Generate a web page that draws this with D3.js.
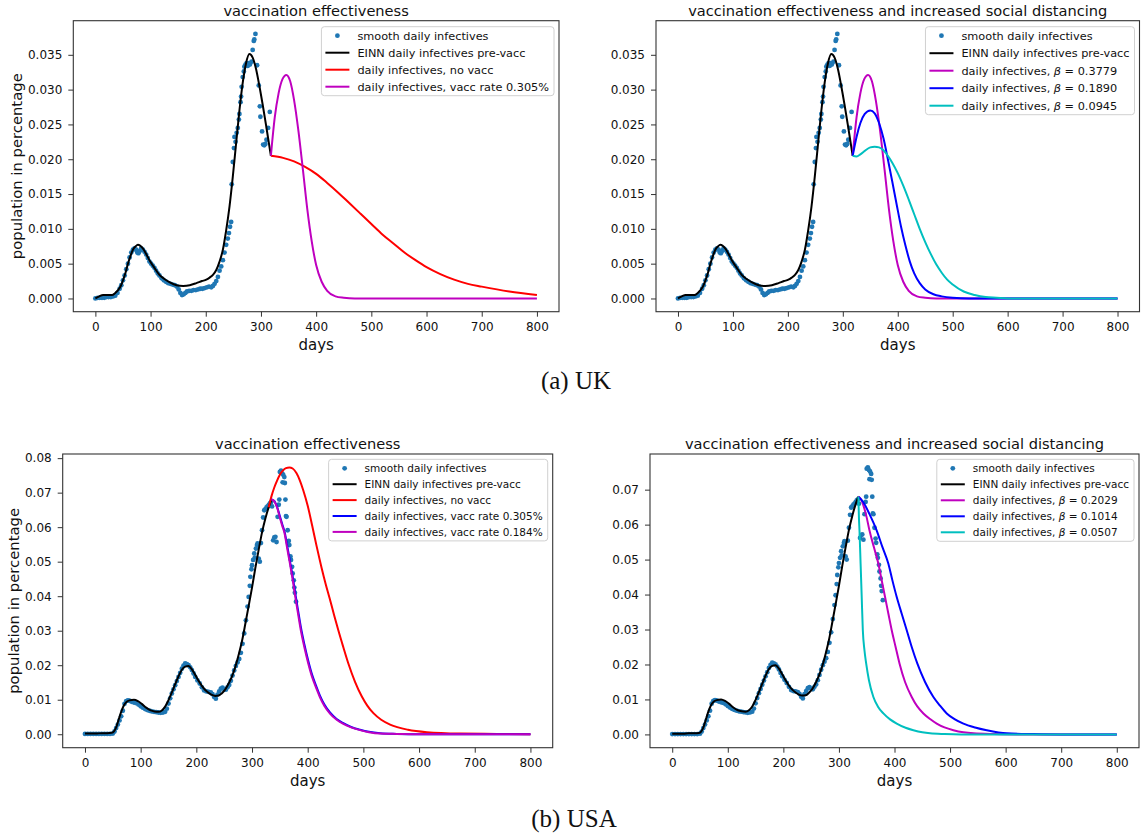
<!DOCTYPE html>
<html>
<head>
<meta charset="utf-8">
<title>vaccination effectiveness</title>
<script src="https://cdn.jsdelivr.net/npm/d3@7/dist/d3.min.js"></script>
<style>
  body { margin: 0; background: #fff; }
  svg text { font-family: "DejaVu Sans", sans-serif; fill: #111; }
  .caption { font-family: "Liberation Serif", "Times New Roman", serif; }
</style>
</head>
<body>
<div id="chart"></div>
<script>
// ---- data: [day, fraction of population] ----

var ukDots = [[0,0.0000],[4,0.0001],[8,0.0001],[12,0.0001],[16,0.0001],[20,0.0002],[24,0.0002],[28,0.0002],[32,0.0003],[36,0.0004],
  [40,0.0008],[44,0.0014],[47,0.0019],[50,0.0026],[53,0.0033],[56,0.0042],[59,0.0050],[62,0.0059],[65,0.0066],[68,0.0070],
  [71,0.0072],[74,0.0070],[76,0.0066],[78,0.0065],[80,0.0068],[83,0.0072],[86,0.0070],[89,0.0067],[92,0.0063],[95,0.0058],
  [98,0.0053],[101,0.0050],[104,0.0047],[107,0.0044],[110,0.0040],[113,0.0036],[116,0.0033],[120,0.0029],[124,0.0026],[128,0.0024],
  [132,0.0022],[136,0.0021],[140,0.0020],[144,0.0019],[148,0.0017],[151,0.0013],[154,0.0008],[157,0.0005],[160,0.0006],[163,0.0008],
  [166,0.0010],[170,0.0011],[174,0.0011],[178,0.0012],[182,0.0012],[186,0.0013],[190,0.0014],[194,0.0014],[198,0.0015],[202,0.0016],
  [206,0.0017],[210,0.0016],[213,0.0018],[216,0.0021],[219,0.0025],[222,0.0031],[225,0.0040],[228,0.0046],[231,0.0055],[234,0.0066],
  [237,0.0077],[240,0.0086],[242,0.0094],[244,0.0103],[246,0.0110],[247,0.0164],[249,0.0196],[251,0.0216],[252,0.0232],[254,0.0225],
  [256,0.0238],[258,0.0245],[260,0.0257],[261,0.0265],[263,0.0282],[264,0.0290],[265,0.0304],[267,0.0318],[269,0.0326],[270,0.0333],
  [272,0.0336],[274,0.0338],[276,0.0334],[278,0.0338],[280,0.0336],[283,0.0340],[285,0.0357],[287,0.0370],[288,0.0372],[290,0.0380],
  [293,0.0335],[296,0.0306],[298,0.0276],[299,0.0261],[302,0.0240],[304,0.0221],[306,0.0220],[308,0.0222],[310,0.0228],[313,0.0245],
  [316,0.0268]];

var ukPreVacc = [[0,0.0000],[7,0.0003],[14,0.0005],[22,0.0005],[30,0.0005],[36,0.0008],[41,0.0012],[46,0.0018],[50,0.0026],[55,0.0038],
  [59,0.0050],[64,0.0062],[68,0.0070],[73,0.0075],[77,0.0077],[81,0.0076],[86,0.0072],[92,0.0064],[98,0.0055],[107,0.0044],
  [116,0.0034],[125,0.0028],[135,0.0023],[147,0.0019],[159,0.0018],[171,0.0019],[183,0.0022],[193,0.0025],[201,0.0027],[207,0.0030],
  [213,0.0034],[219,0.0041],[225,0.0053],[231,0.0070],[237,0.0098],[243,0.0132],[249,0.0175],[255,0.0223],[261,0.0270],[267,0.0310],
  [273,0.0338],[279,0.0351],[285,0.0346],[291,0.0330],[297,0.0306],[303,0.0279],[309,0.0250],[314,0.0225],[318,0.0205]];

var ukNoVacc = [[318,0.0205],[340,0.0202],[360,0.0197],[380,0.0189],[400,0.0179],[420,0.0166],[440,0.0152],[460,0.0137],[480,0.0122],
  [500,0.0107],[520,0.0092],[540,0.0079],[560,0.0066],[580,0.0055],[600,0.0045],[625,0.0035],[650,0.0027],[675,0.0021],[700,0.0017],
  [750,0.0010],[800,0.0005]];

// vacc rate 0.305% (same run as beta = 0.3779)
var ukVacc305 = [[318,0.0205],[325,0.0260],[332,0.0295],[339,0.0315],[346,0.0321],[353,0.0312],[360,0.0285],[368,0.0240],[376,0.0185],
  [384,0.0128],[392,0.0082],[400,0.0048],[410,0.0024],[420,0.0011],[435,0.0003],[450,0.0001],[470,0.0000],[600,0.0000],[800,0.0000]];

var ukBeta1890 = [[318,0.0205],[325,0.0232],[332,0.0252],[340,0.0265],[350,0.0270],[358,0.0266],[366,0.0252],[374,0.0230],[382,0.0200],
  [390,0.0168],[398,0.0135],[406,0.0103],[414,0.0076],[422,0.0053],[430,0.0036],[440,0.0022],[450,0.0013],[465,0.0006],[480,0.0003],
  [500,0.0001],[530,0.0000],[800,0.0000]];

var ukBeta0945 = [[318,0.0205],[325,0.0204],[332,0.0207],[340,0.0212],[350,0.0217],[358,0.0218],[366,0.0217],[374,0.0213],[382,0.0205],
  [390,0.0195],[400,0.0180],[410,0.0162],[420,0.0142],[430,0.0121],[440,0.0100],[450,0.0081],[460,0.0064],[470,0.0049],[480,0.0037],
  [490,0.0027],[500,0.0020],[520,0.0010],[540,0.0005],[560,0.0002],[580,0.0001],[600,0.0000],[800,0.0000]];

var usDots = [[0,0.0001],[5,0.0001],[10,0.0001],[15,0.0001],[20,0.0001],[25,0.0001],[30,0.0001],[35,0.0001],[40,0.0001],[45,0.0001],
  [50,0.0002],[53,0.0008],[56,0.0018],[59,0.0028],[62,0.0040],[65,0.0052],[68,0.0068],[71,0.0088],[74,0.0096],[77,0.0098],
  [80,0.0097],[84,0.0094],[88,0.0092],[92,0.0090],[96,0.0086],[100,0.0081],[104,0.0077],[108,0.0073],[112,0.0070],[116,0.0068],
  [120,0.0066],[124,0.0065],[128,0.0064],[132,0.0063],[136,0.0062],[140,0.0063],[144,0.0065],[147,0.0074],[150,0.0089],[153,0.0104],
  [156,0.0118],[159,0.0130],[162,0.0142],[165,0.0154],[168,0.0166],[171,0.0178],[174,0.0190],[177,0.0199],[180,0.0205],[183,0.0203],
  [186,0.0200],[189,0.0194],[192,0.0186],[195,0.0176],[198,0.0166],[202,0.0156],[206,0.0147],[210,0.0136],[214,0.0127],[218,0.0124],
  [222,0.0123],[226,0.0121],[229,0.0116],[232,0.0108],[235,0.0103],[238,0.0115],[241,0.0124],[244,0.0132],[247,0.0135],[250,0.0131],
  [253,0.0129],[256,0.0136],[259,0.0143],[262,0.0155],[265,0.0170],[268,0.0185],[271,0.0198],[274,0.0208],[277,0.0218],[280,0.0236],
  [283,0.0262],[286,0.0292],[289,0.0330],[292,0.0370],[294,0.0398],[296,0.0430],[297,0.0456],[299,0.0478],[300,0.0490],[302,0.0505],
  [304,0.0524],[305,0.0512],[307,0.0538],[309,0.0548],[310,0.0553],[312,0.0509],[314,0.0500],[316,0.0554],[318,0.0591],[320,0.0628],
  [322,0.0649],[324,0.0652],[326,0.0657],[328,0.0660],[330,0.0664],[332,0.0669],[334,0.0672],[336,0.0660],[338,0.0562],[340,0.0570],
  [342,0.0572],[344,0.0557],[346,0.0630],[348,0.0665],[349,0.0680],[350,0.0760],[352,0.0764],[354,0.0756],[355,0.0730],[356,0.0752],
  [358,0.0745],[359,0.0728],[360,0.0680],[361,0.0632],[362,0.0630],[364,0.0591],[366,0.0560],[367,0.0548],[369,0.0515],[370,0.0505],
  [372,0.0485],[373,0.0466],[375,0.0446],[376,0.0425],[377,0.0410],[379,0.0384]];

var usPreVacc = [[0,0.0002],[10,0.0002],[20,0.0002],[30,0.0003],[40,0.0003],[48,0.0004],[52,0.0008],[56,0.0020],[60,0.0040],[65,0.0065],
  [70,0.0084],[75,0.0094],[80,0.0098],[88,0.0100],[95,0.0096],[102,0.0088],[110,0.0077],[118,0.0069],[125,0.0066],[132,0.0065],
  [138,0.0069],[144,0.0080],[150,0.0099],[156,0.0121],[162,0.0145],[168,0.0168],[174,0.0187],[180,0.0196],[186,0.0198],[192,0.0188],
  [198,0.0172],[204,0.0155],[210,0.0140],[216,0.0128],[222,0.0120],[228,0.0114],[234,0.0111],[240,0.0112],[246,0.0119],[252,0.0130],
  [258,0.0147],[264,0.0168],[270,0.0195],[276,0.0230],[282,0.0270],[288,0.0320],[294,0.0372],[300,0.0425],[306,0.0482],[312,0.0535],
  [318,0.0585],[324,0.0625],[330,0.0658],[335,0.0680]];

var usNoVacc = [[330,0.0658],[335,0.0690],[340,0.0715],[345,0.0735],[350,0.0752],[355,0.0763],[361,0.0771],[367,0.0773],[373,0.0770],
  [380,0.0756],[386,0.0735],[392,0.0707],[400,0.0662],[408,0.0605],[416,0.0545],[425,0.0482],[432,0.0437],[439,0.0396],[447,0.0348],
  [455,0.0301],[464,0.0252],[473,0.0205],[485,0.0152],[497,0.0110],[507,0.0083],[518,0.0061],[532,0.0042],[548,0.0028],[580,0.0013],
  [614,0.0006],[674,0.0002],[740,0.0001],[800,0.0000]];

var usVacc305 = [[335,0.0680],[340,0.0676],[345,0.0659],[350,0.0632],[355,0.0605],[358,0.0590],[363,0.0548],[368,0.0503],[373,0.0457],
  [378,0.0405],[383,0.0356],[388,0.0308],[394,0.0261],[401,0.0213],[408,0.0172],[415,0.0141],[422,0.0112],[430,0.0086],[440,0.0063],
  [452,0.0044],[464,0.0032],[478,0.0021],[494,0.0013],[510,0.0007],[530,0.0003],[560,0.0001],[600,0.0000],[800,0.0000]];

var usVacc184 = [[335,0.0680],[340,0.0675],[345,0.0657],[350,0.0628],[355,0.0600],[358,0.0585],[363,0.0540],[368,0.0495],[373,0.0448],
  [378,0.0395],[383,0.0346],[388,0.0298],[394,0.0252],[401,0.0205],[408,0.0165],[415,0.0135],[422,0.0107],[430,0.0082],[440,0.0060],
  [452,0.0042],[464,0.0030],[478,0.0020],[494,0.0012],[510,0.0006],[530,0.0002],[560,0.0001],[600,0.0000],[800,0.0000]];

var usBeta2029 = [[335,0.0680],[340,0.0672],[345,0.0650],[350,0.0620],[355,0.0583],[363,0.0535],[371,0.0488],[377,0.0440],[383,0.0393],
  [389,0.0345],[395,0.0298],[402,0.0250],[409,0.0203],[419,0.0150],[431,0.0107],[441,0.0080],[452,0.0060],[464,0.0044],[476,0.0031],
  [490,0.0020],[506,0.0012],[524,0.0006],[542,0.0003],[580,0.0001],[620,0.0000],[800,0.0000]];

var usBeta1014 = [[335,0.0680],[344,0.0664],[355,0.0630],[368,0.0583],[378,0.0537],[389,0.0488],[396,0.0442],[404,0.0393],[413,0.0345],
  [422,0.0298],[431,0.0250],[441,0.0203],[455,0.0150],[470,0.0107],[482,0.0082],[494,0.0060],[508,0.0044],[524,0.0031],[545,0.0020],
  [566,0.0012],[602,0.0003],[650,0.0001],[700,0.0000],[800,0.0000]];

var usBeta0507 = [[335,0.0680],[336,0.0620],[337,0.0583],[339,0.0488],[341,0.0393],[343,0.0298],[346,0.0240],[349,0.0203],[354,0.0155],
  [362,0.0107],[370,0.0080],[380,0.0060],[392,0.0043],[404,0.0031],[420,0.0019],[434,0.0012],[450,0.0006],[464,0.0003],[490,0.0001],
  [520,0.0000],[800,0.0000]];

var dayTicks = [0, 100, 200, 300, 400, 500, 600, 700, 800];
var ukYTicks = [0, 0.005, 0.010, 0.015, 0.020, 0.025, 0.030, 0.035];
var usLeftYTicks = [0, 0.01, 0.02, 0.03, 0.04, 0.05, 0.06, 0.07, 0.08];
var usRightYTicks = [0, 0.01, 0.02, 0.03, 0.04, 0.05, 0.06, 0.07];

var titleLeft = "vaccination effectiveness";
var titleRight = "vaccination effectiveness and increased social distancing";
var dotLabel = "smooth daily infectives";
var preLabel = "EINN daily infectives pre-vacc";

var C = { dot: "#1f77b4", k: "#000000", r: "#ff0000", m: "#bf00bf", b: "#0000ff", c: "#00bfbf" };

var W = 1141, H = 834;
var svg = d3.select("#chart").append("svg").attr("width", W).attr("height", H);

function panel(p) {
  var x = d3.scaleLinear().domain([-40, 840]).range([p.left, p.right]);
  var y = d3.scaleLinear().domain(p.yDomain).range([p.bottom, p.top]);
  var g = svg.append("g");

  var clipId = "clip" + p.id;
  svg.append("clipPath").attr("id", clipId).append("rect")
    .attr("x", p.left).attr("y", p.top).attr("width", p.right - p.left).attr("height", p.bottom - p.top);
  var plot = g.append("g").attr("clip-path", "url(#" + clipId + ")");

  plot.selectAll("circle").data(p.dots).enter().append("circle")
    .attr("cx", function(d) { return x(d[0]); })
    .attr("cy", function(d) { return y(d[1]); })
    .attr("r", 2.4)
    .attr("fill", C.dot);

  var line = d3.line().x(function(d) { return x(d[0]); }).y(function(d) { return y(d[1]); })
    .curve(d3.curveMonotoneX);

  p.lines.forEach(function(s) {
    plot.append("path").attr("d", line(s.data)).attr("fill", "none")
      .attr("stroke", s.color).attr("stroke-width", 2).attr("stroke-linejoin", "round");
  });

  // axes
  var xAxis = d3.axisBottom(x).tickValues(dayTicks).tickSize(5).tickPadding(6).tickFormat(d3.format("d"));
  var yAxis = d3.axisLeft(y).tickValues(p.yTicks).tickSize(5).tickPadding(6).tickFormat(d3.format(p.fmt));
  var gx = g.append("g").attr("transform", "translate(0," + p.bottom + ")").call(xAxis);
  var gy = g.append("g").attr("transform", "translate(" + p.left + ",0)").call(yAxis);
  [gx, gy].forEach(function(a) {
    a.select(".domain").remove();
    a.selectAll("line").attr("stroke", "#333");
    a.selectAll("text").style("font-size", "12px").attr("fill", "#111");
  });

  g.append("rect").attr("x", p.left).attr("y", p.top)
    .attr("width", p.right - p.left).attr("height", p.bottom - p.top)
    .attr("fill", "none").attr("stroke", "#333").attr("stroke-width", 1.1);

  g.append("text").attr("x", (p.left + p.right) / 2).attr("y", p.top - 5)
    .attr("text-anchor", "middle").style("font-size", "14.6px").text(p.title);
  g.append("text").attr("x", (p.left + p.right) / 2).attr("y", p.bottom + 38)
    .attr("text-anchor", "middle").style("font-size", "15px").text("days");
  if (p.ylabel) {
    var cy = (p.top + p.bottom) / 2;
    g.append("text").attr("transform", "translate(" + p.ylabelX + "," + cy + ") rotate(-90)")
      .attr("text-anchor", "middle").style("font-size", "14.8px").text("population in percentage");
  }

  // legend
  var lg = g.append("g");
  var box = lg.append("rect").attr("fill", "#fff").attr("fill-opacity", 0.8)
    .attr("stroke", "#d0d0d0").attr("rx", 3);
  var items = [{ label: dotLabel, dot: true }, { label: preLabel, color: C.k }].concat(p.lines.slice(1).map(function(s) {
    return { label: s.label, beta: s.beta, color: s.color };
  }));
  var textX = 36, maxW = 0;
  items.forEach(function(it, i) {
    var ry = p.legTop + p.legRow0 + i * p.legStep;
    if (it.dot) {
      lg.append("circle").attr("cx", 16).attr("cy", ry).attr("r", 2.4).attr("fill", C.dot);
    } else {
      lg.append("line").attr("x1", 4).attr("x2", 28).attr("y1", ry).attr("y2", ry)
        .attr("stroke", it.color).attr("stroke-width", 2);
    }
    var t = lg.append("text").attr("x", textX).attr("y", ry).attr("dy", "0.36em")
      .style("font-size", p.legFont + "px");
    if (it.beta) {
      t.append("tspan").text("daily infectives, ");
      t.append("tspan").style("font-style", "italic").text("\u03b2");
      t.append("tspan").text(" = " + it.beta);
    } else {
      t.text(it.label);
    }
    maxW = Math.max(maxW, t.node().getComputedTextLength());
  });
  var bw = textX + maxW + 5;
  var bx = p.right - 5 - bw;
  lg.attr("transform", "translate(" + bx + ",0)");
  box.attr("x", 0).attr("y", p.legTop).attr("width", bw)
    .attr("height", p.legRow0 * 2 + (items.length - 1) * p.legStep);
}

panel({
  id: 1, left: 73.3, right: 559, top: 20.7, bottom: 311.7,
  yDomain: [-0.0019, 0.0399], yTicks: ukYTicks, fmt: ".3f",
  title: titleLeft, ylabel: true, ylabelX: 22,
  dots: ukDots,
  lines: [
    { data: ukPreVacc, color: C.k },
    { data: ukNoVacc, color: C.r, label: "daily infectives, no vacc" },
    { data: ukVacc305, color: C.m, label: "daily infectives, vacc rate 0.305%" }
  ],
  legTop: 26.7, legRow0: 9, legStep: 17, legFont: 11.3
});

panel({
  id: 2, left: 656, right: 1139.5, top: 20.7, bottom: 311.7,
  yDomain: [-0.0019, 0.0399], yTicks: ukYTicks, fmt: ".3f",
  title: titleRight, ylabel: false,
  dots: ukDots,
  lines: [
    { data: ukPreVacc, color: C.k },
    { data: ukVacc305, color: C.m, beta: "0.3779" },
    { data: ukBeta1890, color: C.b, beta: "0.1890" },
    { data: ukBeta0945, color: C.c, beta: "0.0945" }
  ],
  legTop: 26.7, legRow0: 9, legStep: 17.5, legFont: 11.3
});

panel({
  id: 3, left: 62.7, right: 552.7, top: 454, bottom: 747.7,
  yDomain: [-0.0039, 0.0812], yTicks: usLeftYTicks, fmt: ".2f",
  title: titleLeft, ylabel: true, ylabelX: 18.5,
  dots: usDots,
  lines: [
    { data: usPreVacc, color: C.k },
    { data: usNoVacc, color: C.r, label: "daily infectives, no vacc" },
    { data: usVacc305, color: C.b, label: "daily infectives, vacc rate 0.305%" },
    { data: usVacc184, color: C.m, label: "daily infectives, vacc rate 0.184%" }
  ],
  legTop: 459.3, legRow0: 9, legStep: 15.9, legFont: 10.5
});

panel({
  id: 4, left: 650, right: 1139, top: 454, bottom: 747.7,
  yDomain: [-0.0038, 0.0802], yTicks: usRightYTicks, fmt: ".2f",
  title: titleRight, ylabel: false,
  dots: usDots,
  lines: [
    { data: usPreVacc, color: C.k },
    { data: usBeta2029, color: C.m, beta: "0.2029" },
    { data: usBeta1014, color: C.b, beta: "0.1014" },
    { data: usBeta0507, color: C.c, beta: "0.0507" }
  ],
  legTop: 459.3, legRow0: 9, legStep: 16, legFont: 10.5
});

svg.append("text").attr("class", "caption").attr("x", 576).attr("y", 389)
  .attr("text-anchor", "middle").style("font-size", "25px").text("(a) UK");
svg.append("text").attr("class", "caption").attr("x", 574).attr("y", 826.5)
  .attr("text-anchor", "middle").style("font-size", "25px").text("(b) USA");
</script>
</body>
</html>
